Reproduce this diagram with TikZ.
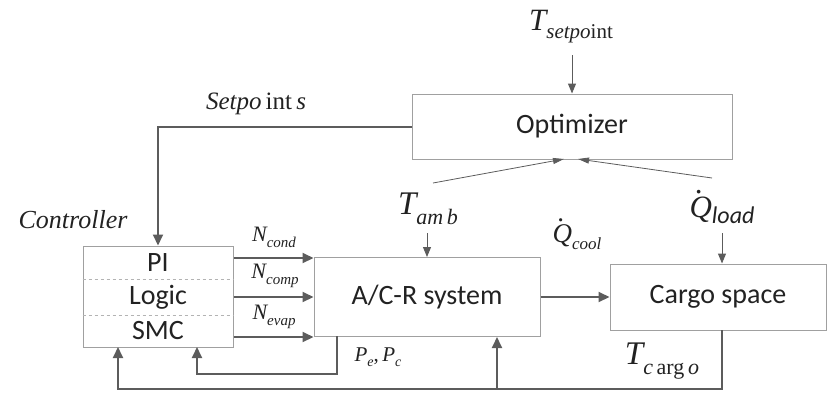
\documentclass[tikz,border=0pt]{standalone}
\usepackage{fontspec}
\setmainfont{Carlito}
\newfontfamily\tms{Liberation Serif}
\usetikzlibrary{arrows.meta}
\definecolor{linegray}{HTML}{5C5C5C}
\definecolor{boxgray}{HTML}{A0A0A0}
\definecolor{txtgray}{HTML}{222222}
\newcommand\dotQ{{\tms\itshape Q}\llap{\raisebox{0.78em}{\tms\upshape .}\hspace{0.3em}}}
\begin{document}
\begin{tikzpicture}[x=1pt,y=-1pt,
  box/.style={draw=boxgray, line width=1pt, inner sep=0pt, font=\fontsize{28}{32}\selectfont, text=txtgray},
  conn/.style={draw=linegray, line width=2pt, -{Triangle[length=11pt,width=10pt]}, color=linegray},
  thinarrow/.style={draw=linegray, line width=1pt, -{Triangle[length=10pt,width=8pt]}, color=linegray},
  slantarrow/.style={draw=linegray, line width=0.8pt, -{Triangle[length=11pt,width=6pt]}, color=linegray},
  divider/.style={draw=boxgray!80, dashed, line width=0.6pt},
  lab/.style={inner sep=0pt, text=txtgray, font=\tms}
]
\useasboundingbox (0,0) rectangle (828,392);

% boxes
\node[box, minimum width=150pt, minimum height=101pt] (ctrl) at (158,296.5) {};
\node[box, minimum width=226pt, minimum height=79pt] (acr) at (427,297) {A/C-R system};
\node[box, minimum width=216pt, minimum height=66pt] (cargo) at (718,297) {Cargo space};
\node[box, minimum width=320pt, minimum height=65pt] (opt) at (572,126.5) {Optimizer};

% controller sub-blocks
\node[inner sep=0pt, font=\fontsize{28}{32}\selectfont, text=txtgray] (pi) at (158,263) {PI};
\node[inner sep=0pt, font=\fontsize{28}{32}\selectfont, text=txtgray] (logic) at (158,297) {Logic};
\node[inner sep=0pt, font=\fontsize{28}{32}\selectfont, text=txtgray] (smc) at (158,331) {SMC};
\draw[divider] (ctrl.west |- 0,279) -- (ctrl.east |- 0,279);
\draw[divider] (ctrl.west |- 0,315) -- (ctrl.east |- 0,315);

% labels
\node[lab] (tset) at (571,27) {{\fontsize{31}{31}\selectfont\itshape T}\raisebox{-8pt}{\fontsize{21}{21}\selectfont\itshape setpo\upshape int}};
\node[lab] (spts) at (256,104) {\fontsize{25}{25}\selectfont\itshape Setpo\,\upshape int\,\itshape s};
\node[lab] (ctrllab) at (73,220) {\fontsize{26}{26}\selectfont\itshape Controller};
\node[lab] (tamb) at (428,209) {{\fontsize{33}{33}\selectfont\itshape T}\raisebox{-10pt}{\fontsize{22}{22}\selectfont\itshape am\,b}};
\node[lab] (qcool) at (577,234) {{\fontsize{27}{27}\selectfont\dotQ}\raisebox{-7pt}{\fontsize{17}{17}\selectfont\itshape cool}};
\node[lab] (qload) at (722,207) {{\fontsize{31}{31}\selectfont\dotQ}\raisebox{-6pt}{\fontsize{24}{24}\selectfont\rmfamily\itshape load}};
\node[lab] (tcargo) at (662,361) {{\fontsize{33}{33}\selectfont\itshape T}\raisebox{-10pt}{\fontsize{22}{22}\selectfont\itshape c\,\upshape arg\,\itshape o}};
\node[lab] (pepc) at (378,357) {\fontsize{21}{21}\selectfont\itshape P\raisebox{-5pt}{\fontsize{14}{14}\selectfont e}\upshape,\,\itshape P\raisebox{-5pt}{\fontsize{14}{14}\selectfont c}};
\node[lab] (ncond) at (274,237) {{\fontsize{22}{22}\selectfont\itshape N}\raisebox{-6pt}{\fontsize{15}{15}\selectfont\itshape cond}};
\node[lab] (ncomp) at (275,276) {{\fontsize{22}{22}\selectfont\itshape N}\raisebox{-6pt}{\fontsize{15}{15}\selectfont\itshape comp}};
\node[lab] (nevap) at (274,317) {{\fontsize{22}{22}\selectfont\itshape N}\raisebox{-6pt}{\fontsize{15}{15}\selectfont\itshape evap}};

% controller outputs
\draw[conn] (ctrl.east |- 0,258) -- (acr.west |- 0,258);
\draw[conn] (ctrl.east |- 0,297) -- (acr.west |- 0,297);
\draw[conn] (ctrl.east |- 0,337) -- (acr.west |- 0,337);

% setpoints from optimizer
\draw[conn] (opt.west) -| (ctrl.north);

% T_setpoint into optimizer
\coordinate (tsetbot) at (572,55);
\draw[thinarrow] (tsetbot) -- (tsetbot |- opt.north);

% inputs into optimizer
\coordinate (ambstart) at (433,183);
\coordinate (loadstart) at (712,178);
\coordinate (optin1) at (564,159);
\coordinate (optin2) at (578,159);
\draw[slantarrow] (ambstart) -- (optin1);
\draw[slantarrow] (loadstart) -- (optin2);

% T_amb and Q_load arrows
\coordinate (tambbot) at (427,233);
\draw[thinarrow] (tambbot) -- (tambbot |- acr.north);
\coordinate (qloadbot) at (722,233);
\draw[thinarrow] (qloadbot) -- (qloadbot |- cargo.north);

% A/C-R to cargo
\draw[conn] (acr.east) -- (cargo.west);

% Pe,Pc feedback
\coordinate (pestart) at (337,336);
\coordinate (pecorner) at (337,374);
\coordinate (pein) at (197,347);
\draw[conn] (pestart) -- (pecorner) -| (pein);

% T_cargo feedback
\coordinate (tcstart) at (722,330);
\coordinate (tccorner) at (722,389);
\coordinate (tcbranch) at (497,389);
\coordinate (tcin) at (118,347);
\draw[conn] (tcstart) -- (tccorner) -| (tcin);
\draw[conn] (tcbranch) -- (tcbranch |- acr.south);
\end{tikzpicture}
\end{document}
